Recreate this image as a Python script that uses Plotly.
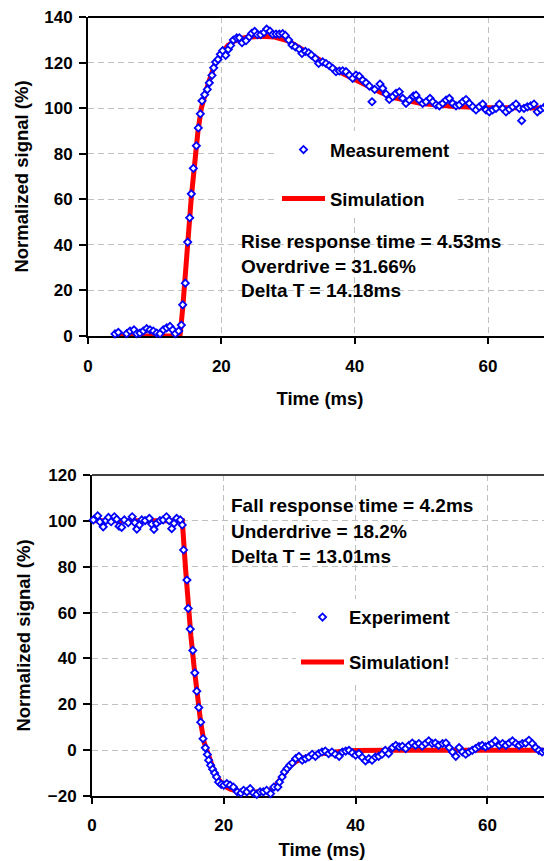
import plotly.graph_objects as go

OFF = 8                      # page body margin of the browser
W, H = 552 - OFF, 861 - OFF  # figure size that fits in the window
FONT = "Liberation Sans, Arial, sans-serif"

# ---------------- data: rise (top) ----------------
rise_meas_t = [4.05, 4.55, 5.3, 5.8, 6.3, 6.9, 7.3, 7.8, 8.3, 8.8,
               9.3, 9.8, 10.3, 10.8, 11.3, 11.8, 12.3, 12.7, 13.1, 13.6,
               14.0, 14.2, 14.6, 14.95, 15.25, 15.5, 15.8, 16.25, 16.55, 16.85,
               17.1, 17.5, 17.9, 18.2, 18.6, 18.85, 19.15, 19.5, 19.85, 20.2,
               20.65, 21.05, 21.4, 21.8, 22.3, 22.7, 23.1, 23.7, 24.2, 24.55,
               25.0, 25.4, 25.9, 26.4, 26.8, 27.3, 27.7, 28.2, 28.7, 29.2,
               29.6, 30.1, 30.6, 31.1, 31.7, 32.1, 32.6, 33.1, 33.5, 34.1,
               34.6, 35.2, 35.7, 36.2, 36.7, 37.2, 37.7, 38.2, 38.7, 39.2,
               39.7, 40.2, 40.7, 41.2, 41.7, 42.2, 42.6, 43.0, 43.8, 44.2,
               44.7, 45.2, 45.7, 46.2, 46.7, 47.2, 47.7, 48.2, 48.8, 49.2,
               49.7, 50.2, 50.7, 51.3, 51.7, 52.2, 52.7, 53.2, 53.7, 54.2,
               54.7, 55.2, 55.7, 56.2, 56.7, 57.2, 57.7, 58.2, 58.7, 59.2,
               59.7, 60.2, 60.7, 61.2, 61.7, 62.2, 62.7, 63.2, 63.7, 64.2,
               64.7, 65.05, 65.4, 65.9, 66.4, 66.9, 67.4, 67.9, 68.4, 68.9,
               69.4]
rise_meas_v = [0.9, 1.6, -0.3, 1.0, 2.2, 2.7, 1.0, 1.3, 2.2, 3.2,
               2.7, 2.2, 1.3, 1.0, 2.7, 3.6, 4.2, 2.7, 1.0, 2.2,
               4.8, 13.7, 23.2, 41.2, 51.9, 62.4, 73.6, 83.5, 91.3, 97.5,
               103.2, 105.9, 108.2, 111.1, 114.4, 117.7, 120.2, 121.4, 123.6, 125.2,
               123.2, 125.8, 127.5, 129.9, 130.8, 130.9, 128.7, 129.6, 131.3, 132.8,
               133.7, 132.2, 132.2, 133.2, 134.7, 133.8, 132.4, 132.5, 132.5, 132.7,
               131.9, 129.9, 127.7, 126.9, 125.8, 124.0, 124.9, 124.3, 123.3, 121.8,
               119.6, 120.3, 119.6, 118.6, 117.5, 116.0, 116.3, 116.4, 116.0, 114.5,
               113.1, 114.5, 114.0, 112.3, 111.1, 109.7, 102.8, 108.2, 110.6, 108.7,
               106.2, 103.8, 105.0, 106.5, 107.2, 104.3, 102.1, 103.5, 105.3, 105.7,
               103.5, 102.1, 102.8, 104.3, 102.8, 101.4, 101.0, 102.1, 103.5, 104.3,
               102.1, 101.0, 101.4, 102.8, 103.8, 102.1, 100.6, 99.2, 100.6, 101.8,
               99.2, 98.4, 99.2, 99.9, 101.8, 99.9, 98.4, 99.5, 100.6, 101.8,
               99.9, 94.5, 99.9, 100.6, 101.0, 101.8, 98.4, 99.5, 100.3, 101.0,
               101.8]
rise_sim_t = [4, 13.8, 14.2, 14.6, 15, 15.5, 16, 16.5, 17, 17.5, 18, 19, 20, 21, 22,
              23, 24, 26, 28, 30, 32, 34, 36, 38, 40, 42, 44, 46, 48, 50, 55, 60, 70]
rise_sim_v = [0, 0, 12, 25, 42, 61, 78, 90, 100, 106, 110.5, 119, 124, 127.5, 129.5,
              130.6, 131.2, 131.5, 131.2, 129.5, 126.2, 122.5, 119, 115.5, 112.5, 109.5,
              106.8, 104.5, 103, 102, 100.7, 100.2, 100]

# ---------------- data: fall (bottom) ----------------
fall_meas_t = [0.2, 0.86, 1.2, 1.7, 2.1, 2.5, 2.9, 3.4, 3.75, 4.1,
               4.5, 4.9, 5.5, 6.1, 6.5, 6.8, 7.2, 7.55, 8.05, 8.7,
               9.05, 9.4, 9.8, 10.3, 10.8, 11.3, 11.7, 12.1, 12.45, 12.85,
               13.4, 13.7, 13.9, 14.4, 14.6, 14.9, 15.3, 15.6, 15.9, 16.2,
               16.5, 16.85, 17.2, 17.5, 17.7, 18.0, 18.3, 18.6, 18.9, 19.2,
               19.6, 20.0, 20.45, 20.95, 21.45, 22.05, 22.6, 23.0, 23.5, 24.0,
               24.5, 25.0, 25.5, 26.0, 26.5, 27.1, 27.6, 28.2, 28.45, 28.85,
               29.2, 29.6, 30.0, 30.4, 30.9, 31.4, 31.9, 32.4, 32.9, 33.4,
               33.9, 34.4, 34.9, 35.4, 35.9, 36.4, 36.9, 37.5, 38.0, 38.5,
               39.0, 39.5, 40.0, 40.5, 41.0, 41.5, 42.0, 42.5, 43.0, 43.5,
               44.0, 44.5, 45.0, 45.6, 46.1, 46.6, 47.1, 47.6, 48.1, 48.6,
               49.1, 49.6, 50.1, 50.6, 51.1, 51.6, 52.1, 52.6, 53.2, 53.7,
               54.2, 54.7, 55.2, 55.7, 56.2, 56.7, 57.2, 57.7, 58.2, 58.7,
               59.2, 59.7, 60.2, 60.7, 61.2, 61.8, 62.3, 62.8, 63.3, 63.8,
               64.3, 64.8, 65.3, 65.8, 66.3, 66.8, 67.3, 67.8, 68.3, 68.8,
               69.4, 69.75]
fall_meas_v = [100.4, 102.2, 99.6, 97.4, 100.1, 101.5, 99.6, 101.8, 100.7, 97.7,
               97.2, 100.4, 99.2, 101.8, 99.2, 96.4, 98.2, 100.4, 100.1, 101.1,
               98.6, 96.3, 98.9, 100.1, 100.4, 101.8, 100.1, 96.6, 98.9, 101.1,
               100.4, 98.2, 87.3, 74.2, 61.8, 52.8, 43.5, 33.7, 25.7, 18.6,
               12.2, 5.0, 1.0, -1.9, -4.4, -6.6, -8.3, -10.0, -11.7, -13.9,
               -14.9, -15.3, -14.6, -15.3, -16.1, -18.2, -18.7, -17.5, -18.2, -16.8,
               -18.7, -19.3, -18.2, -18.2, -17.5, -19.0, -16.1, -16.1, -13.9, -11.7,
               -9.5, -8.0, -6.6, -5.6, -3.7, -2.7, -4.4, -3.7, -3.0, -1.8,
               -2.7, -1.5, -0.8, -0.4, -1.5, -0.8, -1.8, -2.7, -0.8, -0.4,
               -0.1, -1.2, -2.2, -1.5, -3.2, -4.7, -3.7, -4.4, -3.0, -2.7,
               -1.8, -0.1, -1.5, 1.1, 2.1, 1.4, 1.7, 0.7, 2.1, 3.1,
               2.1, 2.9, 1.7, 2.9, 4.0, 2.9, 3.1, 2.1, 2.9, 3.1,
               1.1, -0.8, -2.7, 1.1, -0.8, -1.8, -0.8, -0.1, 0.7, 1.7,
               2.1, 1.4, 2.1, 2.9, 4.0, 2.1, 2.9, 2.1, 3.1, 4.0,
               2.9, 2.1, 2.9, 3.1, 4.3, 2.9, 1.1, -0.1, -0.8, -0.4,
               -1.5, -2.7]
fall_sim_t = [0, 13.7, 14.2, 14.6, 15, 15.5, 16, 16.5, 17, 17.5, 18, 18.5, 19, 19.5, 20,
              21, 22, 24, 26, 27, 28, 29, 30, 31, 32, 34, 36, 38, 40, 45, 70]
fall_sim_v = [100, 100, 79, 62, 50, 36, 23, 12, 3.5, -1, -5.5, -9, -12, -14, -15.5,
              -17, -17.8, -18.3, -18.2, -17.5, -15, -11, -7, -4.8, -3.5, -1.8, -1,
              -0.5, -0.2, 0, 0]

x_ticks = [0, 20, 40, 60]
rise_y_ticks = [0, 20, 40, 60, 80, 100, 120, 140]
fall_y_ticks = [-20, 0, 20, 40, 60, 80, 100, 120]

rise_notes = ["Rise response time = 4.53ms", "Overdrive = 31.66%", "Delta T = 14.18ms"]
fall_notes = ["Fall response time = 4.2ms", "Underdrive = 18.2%", "Delta T = 13.01ms"]


def px(x):
    """window pixel x -> paper fraction"""
    return (x - OFF) / W


def py(y):
    """window pixel y -> paper fraction"""
    return 1 - (y - OFF) / H


BOLD = dict(family=FONT, color="black", weight="bold")
marker_style = dict(symbol="diamond", size=5.5, color="white",
                    line=dict(color="#0000FF", width=1.8))
line_style = dict(color="#FF0000", width=5)

fig = go.Figure()
fig.add_trace(go.Scatter(x=rise_sim_t, y=rise_sim_v, mode="lines", line=line_style,
                         name="Simulation", xaxis="x", yaxis="y", legend="legend",
                         legendgroup="b", legendrank=2, cliponaxis=False))
fig.add_trace(go.Scatter(x=rise_meas_t, y=rise_meas_v, mode="markers", marker=marker_style,
                         name="Measurement", xaxis="x", yaxis="y", legend="legend",
                         legendgroup="a", legendrank=1, cliponaxis=False))
fig.add_trace(go.Scatter(x=fall_sim_t, y=fall_sim_v, mode="lines", line=line_style,
                         name="Simulation!", xaxis="x2", yaxis="y2", legend="legend2",
                         legendgroup="d", legendrank=2, cliponaxis=False))
fig.add_trace(go.Scatter(x=fall_meas_t, y=fall_meas_v, mode="markers", marker=marker_style,
                         name="Experiment", xaxis="x2", yaxis="y2", legend="legend2",
                         legendgroup="c", legendrank=1, cliponaxis=False))

common = dict(showgrid=True, gridcolor="#C0C0C0", griddash="6px,4px", gridwidth=1,
              showline=True, linecolor="black", linewidth=2, zeroline=False,
              ticks="outside", tickcolor="black", tickwidth=1.5, automargin=False,
              ticklabeloverflow="allow",
              tickfont=dict(size=17, **BOLD), layer="below traces")

xtitle = dict(text="Time (ms)", font=dict(size=18.5, **BOLD))
ytitle = dict(text="Normalized signal (%)", font=dict(size=18.5, **BOLD))

fig.update_layout(
    width=W, height=H, margin=dict(l=0, r=0, t=0, b=0, autoexpand=False),
    paper_bgcolor="white", plot_bgcolor="white", showlegend=True,
    xaxis=dict(domain=[px(88), 1], range=[0, 69.6], anchor="y", tickvals=x_ticks,
               ticklen=6, ticklabelstandoff=8, title=dict(xtitle, standoff=17), **common),
    yaxis=dict(domain=[py(336), py(17)], range=[0, 140], anchor="x", tickvals=rise_y_ticks,
               ticklen=7, ticklabelstandoff=3, title=dict(ytitle, standoff=11), **common),
    xaxis2=dict(domain=[px(92), 1], range=[0, 69.8], anchor="y2", tickvals=x_ticks,
                ticklen=6, ticklabelstandoff=7, title=dict(xtitle, standoff=9), **common),
    yaxis2=dict(domain=[py(796), py(475)], range=[-20, 120], anchor="x2", tickvals=fall_y_ticks,
                ticklen=7, ticklabelstandoff=3, title=dict(ytitle, standoff=12), **common),
    legend=dict(x=px(277), y=py(131), xanchor="left", yanchor="top", bgcolor="white",
                font=dict(size=18.5, **BOLD), itemwidth=43, tracegroupgap=22,
                traceorder="grouped"),
    legend2=dict(x=px(296), y=py(598.5), xanchor="left", yanchor="top", bgcolor="white",
                 font=dict(size=18.5, **BOLD), itemwidth=43, tracegroupgap=18,
                 traceorder="grouped"),
    shapes=[
        dict(type="line", xref="paper", yref="paper", x0=px(88), x1=1, y0=py(17), y1=py(17),
             line=dict(color="black", width=2)),
        dict(type="line", xref="paper", yref="paper", x0=px(92), x1=1, y0=py(475), y1=py(475),
             line=dict(color="#404040", width=2)),
    ],
)

for text, ypix in zip(rise_notes, [241.7, 266.7, 290.5]):
    fig.add_annotation(text=text, xref="paper", yref="paper", x=px(239), y=py(ypix),
                       xanchor="left", yanchor="middle", showarrow=False,
                       font=dict(size=19, **BOLD))
for text, ypix in zip(fall_notes, [505, 531, 556.7]):
    fig.add_annotation(text=text, xref="paper", yref="paper", x=px(229), y=py(ypix),
                       xanchor="left", yanchor="middle", showarrow=False,
                       font=dict(size=19, **BOLD))

fig.write_html("out.html")
